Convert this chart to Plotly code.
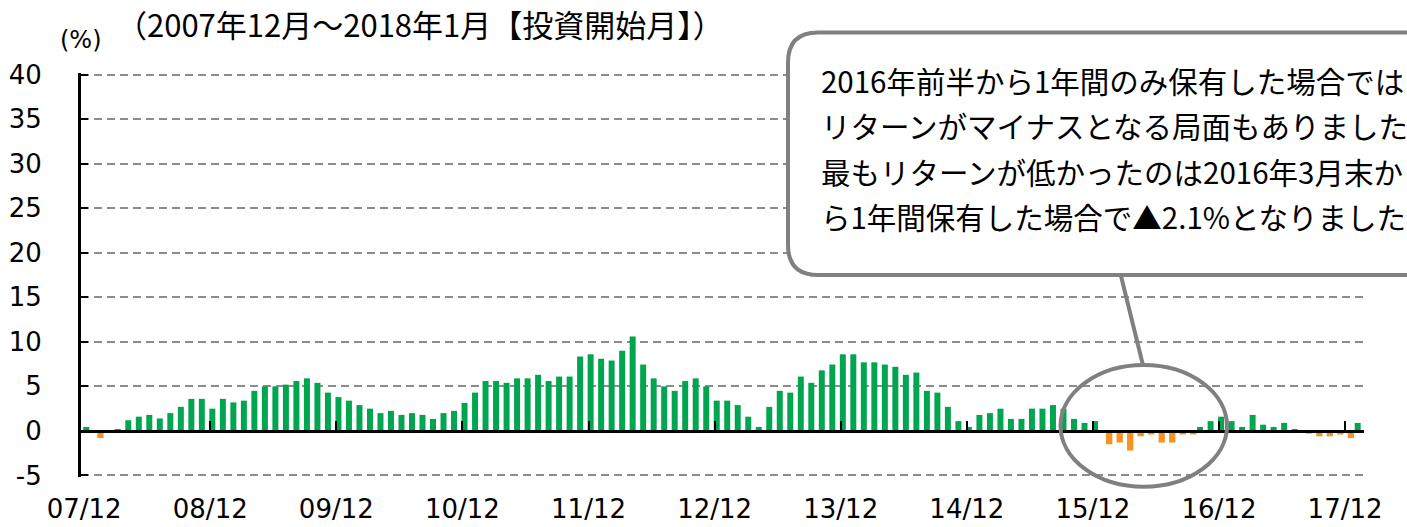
import plotly.graph_objects as go

# ---------------- data ----------------
# 1-year holding-period return (%), investment start month 2007/12 ... 2018/01
returns = [
    0.45, -0.8, 0.0, 0.2, 1.2, 1.6, 1.8, 1.4, 2.0, 2.7, 3.6, 3.6,      # 07/12 - 08/11
    2.5, 3.6, 3.2, 3.4, 4.5, 5.0, 5.0, 5.2, 5.6, 5.9, 5.4, 4.3,        # 08/12 - 09/11
    3.8, 3.4, 2.9, 2.5, 2.0, 2.25, 1.8, 2.0, 1.8, 1.35, 2.0, 2.25,     # 09/12 - 10/11
    3.15, 4.3, 5.6, 5.6, 5.4, 5.9, 5.9, 6.3, 5.6, 6.1, 6.1, 8.35,      # 10/12 - 11/11
    8.6, 8.1, 7.9, 9.0, 10.6, 7.45, 5.9, 5.0, 4.5, 5.6, 5.9, 5.0,      # 11/12 - 12/11
    3.4, 3.4, 2.9, 1.6, 0.45, 2.7, 4.5, 4.3, 6.1, 5.4, 6.8, 7.45,      # 12/12 - 13/11
    8.6, 8.6, 7.7, 7.7, 7.45, 7.2, 6.3, 6.55, 4.5, 4.3, 2.7, 1.1,      # 13/12 - 14/11
    0.45, 1.8, 2.0, 2.5, 1.35, 1.35, 2.5, 2.5, 2.9, 2.5, 1.35, 0.9,    # 14/12 - 15/11
    1.1, -1.5, -1.3, -2.2, -0.6, -0.4, -1.3, -1.3, -0.4, -0.4, 0.45, 1.1,  # 15/12 - 16/11
    1.6, 1.1, 0.45, 1.8, 0.7, 0.45, 0.9, 0.2, -0.3, -0.6, -0.6, -0.4,  # 16/12 - 17/11
    -0.8, 0.9,                                                         # 17/12 - 18/01
]
tick_positions = [0, 12, 24, 36, 48, 60, 72, 84, 96, 108, 120]
tick_labels = ["07/12", "08/12", "09/12", "10/12", "11/12", "12/12",
               "13/12", "14/12", "15/12", "16/12", "17/12"]
y_ticks = [-5, 0, 5, 10, 15, 20, 25, 30, 35, 40]
y_tick_labels = ["-5", "0", "5", "10", "15", "20", "25", "30", "35", "40"]

title_text = "（2007年12月～2018年1月【投資開始月】）"
unit_text = "(%)"
callout_lines = [
    "2016年前半から1年間のみ保有した場合では",
    "リターンがマイナスとなる局面もありました",
    "最もリターンが低かったのは2016年3月末か",
    "ら1年間保有した場合で▲2.1%となりました",
]

GREEN = "#00A64F"
ORANGE = "#F7931E"
GRAY = "#808080"
GRID = "#8c8c8c"

# ---------------- geometry (pixels) ----------------
W, H = 1407, 527
PX_PER_UNIT = 400 / 45
eps = 0.17                      # keep end gridlines off the plot edge
L, R = 81, 1364
T = 75 - eps * PX_PER_UNIT
B = 475 + eps * PX_PER_UNIT


def px_x(p):
    return (p - L) / (R - L)


def px_y(p):
    return (B - p) / (B - T)


x_idx = list(range(len(returns)))
pos_vals = [v if v > 0 else None for v in returns]
neg_vals = [v if v < 0 else None for v in returns]
x_range = [-0.3, len(returns) - 0.2]
y_lo, y_hi = y_ticks[0] - eps, y_ticks[-1] + eps

fig = go.Figure()
fig.add_trace(go.Bar(x=x_idx, y=pos_vals, marker_color=GREEN, marker_line_width=0,
                     width=0.57, offset=-0.085, xaxis="x", yaxis="y",
                     hoverinfo="skip"))
fig.add_trace(go.Bar(x=x_idx, y=neg_vals, marker_color=ORANGE, marker_line_width=0,
                     width=0.6, offset=0.25, xaxis="x2", yaxis="y",
                     hoverinfo="skip"))

tick_font = dict(family="DejaVu Sans", size=26, color="#000000")
cjk_font = "Noto Sans CJK JP, DejaVu Sans"

fig.update_layout(
    width=W, height=H,
    margin=dict(l=L, r=W - R, t=T, b=H - B, pad=0, autoexpand=False),
    paper_bgcolor="white", plot_bgcolor="white",
    showlegend=False, barmode="overlay",
    xaxis=dict(range=x_range, tickmode="array", tickvals=tick_positions,
               ticktext=tick_labels, ticks="", showline=False, showgrid=False,
               zeroline=False, tickfont=tick_font, ticklabelstandoff=14,
               automargin=False),
    xaxis2=dict(range=x_range, overlaying="x", anchor="free",
                position=(0 - y_lo) / (y_hi - y_lo),
                showline=True, linecolor="#000000", linewidth=3,
                ticks="inside", ticklen=9, tickwidth=2, tickcolor="#000000",
                tickmode="array", tickvals=tick_positions[1:],
                showticklabels=False, showgrid=False, zeroline=False,
                automargin=False),
    yaxis=dict(range=[y_lo, y_hi], tickmode="array",
               tickvals=y_ticks, ticktext=y_tick_labels,
               showgrid=True, gridcolor=GRID, gridwidth=2, griddash="8px,5px",
               showline=True, linecolor="#000000", linewidth=3,
               ticks="inside", ticklen=7, tickwidth=2, tickcolor="#000000",
               zeroline=False, tickfont=tick_font, ticklabelstandoff=31,
               automargin=False),
)

# ---------------- callout ----------------
bx0, by0, by1, bx1, r = 788, 33, 275, 1470, 30
path = (f"M {px_x(bx0 + r)},{px_y(by0)} L {px_x(bx1)},{px_y(by0)} "
        f"L {px_x(bx1)},{px_y(by1)} L {px_x(bx0 + r)},{px_y(by1)} "
        f"Q {px_x(bx0)},{px_y(by1)} {px_x(bx0)},{px_y(by1 - r)} "
        f"L {px_x(bx0)},{px_y(by0 + r)} "
        f"Q {px_x(bx0)},{px_y(by0)} {px_x(bx0 + r)},{px_y(by0)} Z")
fig.add_shape(type="path", path=path, xref="paper", yref="paper",
              line=dict(color=GRAY, width=4), fillcolor="white", layer="above")
fig.add_shape(type="line", xref="paper", yref="paper",
              x0=px_x(1121), y0=px_y(276), x1=px_x(1143), y1=px_y(365),
              line=dict(color=GRAY, width=4), layer="above")
fig.add_shape(type="circle", xref="paper", yref="paper",
              x0=px_x(1060.5), x1=px_x(1227), y0=px_y(486.3), y1=px_y(364.7),
              line=dict(color=GRAY, width=4), fillcolor="rgba(0,0,0,0)", layer="above")

for txt, yc in zip(callout_lines, [80, 125.5, 171, 216.5]):
    fig.add_annotation(text=txt, xref="paper", yref="paper", x=px_x(819), y=px_y(yc),
                       xanchor="left", yanchor="middle", showarrow=False,
                       font=dict(family=cjk_font, size=29.5, color="#000000"))

fig.add_annotation(text=title_text, xref="paper", yref="paper", x=px_x(114), y=px_y(24),
                   xanchor="left", yanchor="middle", showarrow=False,
                   font=dict(family=cjk_font, size=31, color="#000000"))
fig.add_annotation(text=unit_text, xref="paper", yref="paper", x=px_x(81), y=px_y(41),
                   xanchor="center", yanchor="middle", showarrow=False,
                   font=dict(family="DejaVu Sans", size=24, color="#000000"))

fig.write_html("out.html", config={"displayModeBar": False},
               post_script="document.body.style.margin='0';document.body.style.overflow='hidden';")
